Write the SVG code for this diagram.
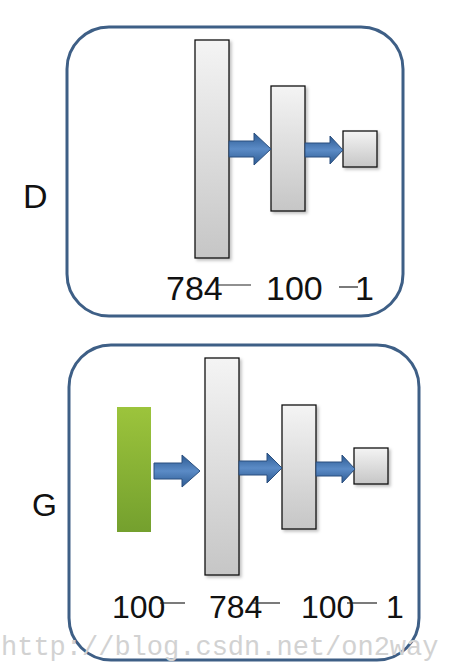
<svg xmlns="http://www.w3.org/2000/svg" width="454" height="666" viewBox="0 0 454 666">
  <defs>
    <linearGradient id="grayFill" x1="0" y1="0" x2="0" y2="1">
      <stop offset="0" stop-color="#f4f4f4"/>
      <stop offset="1" stop-color="#c6c6c6"/>
    </linearGradient>
    <linearGradient id="greenFill" x1="0" y1="0" x2="0" y2="1">
      <stop offset="0" stop-color="#9cc43c"/>
      <stop offset="1" stop-color="#74a02e"/>
    </linearGradient>
    <linearGradient id="arrowFill" x1="0" y1="0" x2="0" y2="1">
      <stop offset="0" stop-color="#2c5a92"/>
      <stop offset="0.5" stop-color="#5b8bc6"/>
      <stop offset="1" stop-color="#2c5a92"/>
    </linearGradient>
    <filter id="shadow" x="-20%" y="-10%" width="150%" height="130%">
      <feDropShadow dx="2" dy="2" stdDeviation="1.5" flood-color="#000" flood-opacity="0.25"/>
    </filter>
  </defs>
  <style>
    .frame { fill: #ffffff; stroke: #3e5f86; stroke-width: 3; }
    .layer { fill: url(#grayFill); stroke: #111; stroke-width: 1.3; filter: url(#shadow); }
    .noise { fill: url(#greenFill); }
    .arrow { fill: url(#arrowFill); stroke: #2a4f7e; stroke-width: 1; }
    .num { font-family: "Liberation Sans", Arial, sans-serif; fill: #111; }
    .tick { stroke: #222; stroke-width: 1.2; }
    .mark { font-family: "Liberation Mono", "Courier New", monospace; font-size: 27px; fill: #d2d2d2; }
  </style>

  <rect width="454" height="666" fill="#ffffff"/>

  <!-- discriminator network -->
  <g id="D">
    <rect class="frame" x="67" y="27" width="336" height="289" rx="42" ry="42"/>
    <text class="num" x="23" y="208" font-size="34">D</text>
    <g id="D-in"><rect class="layer" x="195" y="40" width="34" height="218"/></g>
    <g id="D-hidden"><rect class="layer" x="271" y="86" width="34" height="125"/></g>
    <g id="D-out"><rect class="layer" x="343" y="131" width="34" height="36"/></g>
    <text class="num" x="166" y="300" font-size="34">784</text>
    <text class="num" x="266" y="300" font-size="34">100</text>
    <text class="num" x="355" y="300" font-size="34">1</text>
  </g>

  <!-- generator network -->
  <g id="G">
    <rect class="frame" x="69" y="345" width="350" height="315" rx="42" ry="42"/>
    <text class="num" x="32" y="516" font-size="32">G</text>
    <g id="G-noise"><rect class="noise" x="117" y="407" width="34" height="125"/></g>
    <g id="G-hidden1"><rect class="layer" x="205" y="358" width="34" height="217"/></g>
    <g id="G-hidden2"><rect class="layer" x="282" y="405" width="34" height="124"/></g>
    <g id="G-out"><rect class="layer" x="354" y="448" width="34" height="36"/></g>
    <text class="num" x="112" y="618" font-size="32">100</text>
    <text class="num" x="209" y="618" font-size="32">784</text>
    <text class="num" x="301" y="618" font-size="32">100</text>
    <text class="num" x="386" y="618" font-size="32">1</text>
  </g>

  <!-- connectors -->
  <g id="connectors">
    <path class="arrow" d="M229,141 H254 V133 L271,149 L254,165 V157 H229 Z"/>
    <path class="arrow" d="M305,143 H330 V136 L343,150 L330,164 V157 H305 Z"/>
    <path class="arrow" d="M154,463 H182 V455 L200,471 L182,487 V479 H154 Z"/>
    <path class="arrow" d="M239,461 H267 V453 L282,468 L267,483 V475 H239 Z"/>
    <path class="arrow" d="M316,462 H342 V455 L355,469 L342,483 V476 H316 Z"/>
    <line class="tick" x1="217" y1="285" x2="251" y2="285"/>
    <line class="tick" x1="339" y1="287" x2="358" y2="287"/>
    <line class="tick" x1="160" y1="603" x2="185" y2="603"/>
    <line class="tick" x1="253" y1="603" x2="280" y2="603"/>
    <line class="tick" x1="347" y1="603" x2="377" y2="603"/>
  </g>

  <text class="mark" x="1" y="655">http://blog.csdn.net/on2way</text>
</svg>
